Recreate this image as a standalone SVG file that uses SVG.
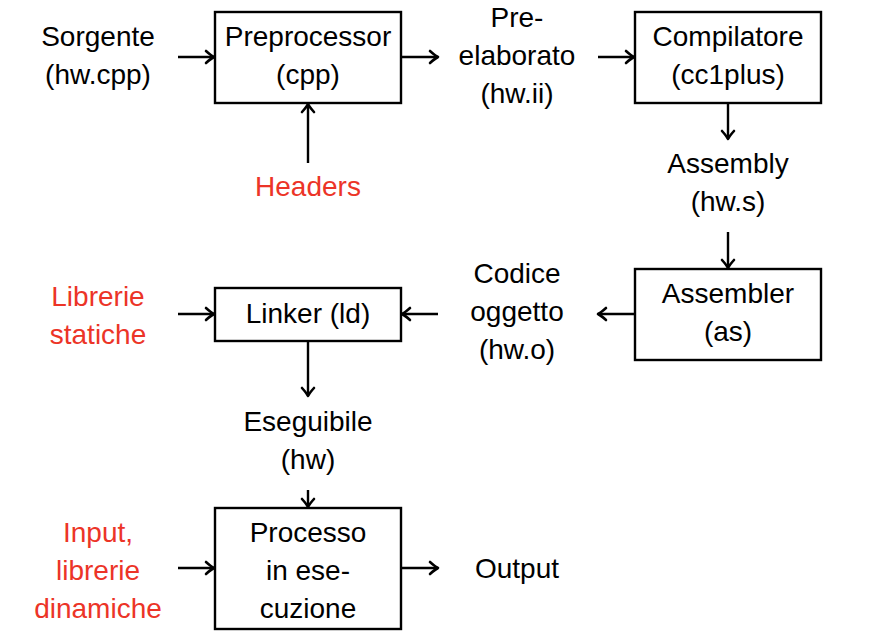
<svg xmlns="http://www.w3.org/2000/svg" width="874" height="634" viewBox="0 0 874 634">
<defs>
<style>
text{font-family:"Liberation Sans",Arial,sans-serif;font-size:28px;text-anchor:middle;fill:#000}
.red{fill:#ec3427}
.box{fill:#fff;stroke:#000;stroke-width:2.4}
.conn line{stroke:#000;stroke-width:2.4;marker-end:url(#arr)}
</style>
<marker id="arr" markerUnits="userSpaceOnUse" viewBox="-10 -7 12 14" refX="0" refY="0" markerWidth="12" markerHeight="14" orient="auto" overflow="visible">
<path d="M-8,-6 Q-3,-1.5 0,0 Q-3,1.5 -8,6" fill="none" stroke="#000" stroke-width="2.6" stroke-linecap="round" stroke-linejoin="round"/>
</marker>
</defs>
<rect width="874" height="634" fill="#fff"/>
<g id="sorgente"><text x="98" y="46">Sorgente</text><text x="98" y="84">(hw.cpp)</text></g>
<g id="preprocessor"><rect class="box" x="215" y="12" width="186" height="91"/><text x="308" y="46">Preprocessor</text><text x="308" y="84">(cpp)</text></g>
<g id="headers"><text class="red" x="308" y="196">Headers</text></g>
<g id="preelaborato"><text x="517" y="27">Pre-</text><text x="517" y="65">elaborato</text><text x="517" y="103">(hw.ii)</text></g>
<g id="compilatore"><rect class="box" x="635" y="12" width="186" height="91"/><text x="728" y="46">Compilatore</text><text x="728" y="84">(cc1plus)</text></g>
<g id="assembly"><text x="728" y="173">Assembly</text><text x="728" y="211">(hw.s)</text></g>
<g id="assembler"><rect class="box" x="635" y="269" width="186" height="91"/><text x="728" y="303">Assembler</text><text x="728" y="341">(as)</text></g>
<g id="oggetto"><text x="517" y="283">Codice</text><text x="517" y="321">oggetto</text><text x="517" y="359">(hw.o)</text></g>
<g id="linker"><rect class="box" x="215" y="288" width="186" height="53"/><text x="308" y="323">Linker (ld)</text></g>
<g id="statiche"><text class="red" x="98" y="306">Librerie</text><text class="red" x="98" y="344">statiche</text></g>
<g id="eseguibile"><text x="308" y="431">Eseguibile</text><text x="308" y="469">(hw)</text></g>
<g id="processo"><rect class="box" x="215" y="508" width="186" height="121"/><text x="308" y="542">Processo</text><text x="308" y="580">in ese-</text><text x="308" y="618">cuzione</text></g>
<g id="input"><text class="red" x="98" y="542">Input,</text><text class="red" x="98" y="580">librerie</text><text class="red" x="98" y="618">dinamiche</text></g>
<g id="output"><text x="517" y="578">Output</text></g>
<g class="conn" id="connectors">
<line x1="178" y1="57" x2="214" y2="57"/>
<line x1="402" y1="57" x2="438" y2="57"/>
<line x1="308" y1="163" x2="308" y2="104"/>
<line x1="598" y1="57" x2="634" y2="57"/>
<line x1="728" y1="104" x2="728" y2="139"/>
<line x1="728" y1="232" x2="728" y2="268"/>
<line x1="634" y1="314" x2="598" y2="314"/>
<line x1="438" y1="314" x2="402" y2="314"/>
<line x1="178" y1="314" x2="214" y2="314"/>
<line x1="308" y1="342" x2="308" y2="396"/>
<line x1="308" y1="490" x2="308" y2="507"/>
<line x1="178" y1="568" x2="214" y2="568"/>
<line x1="402" y1="568" x2="438" y2="568"/>
</g>
</svg>
